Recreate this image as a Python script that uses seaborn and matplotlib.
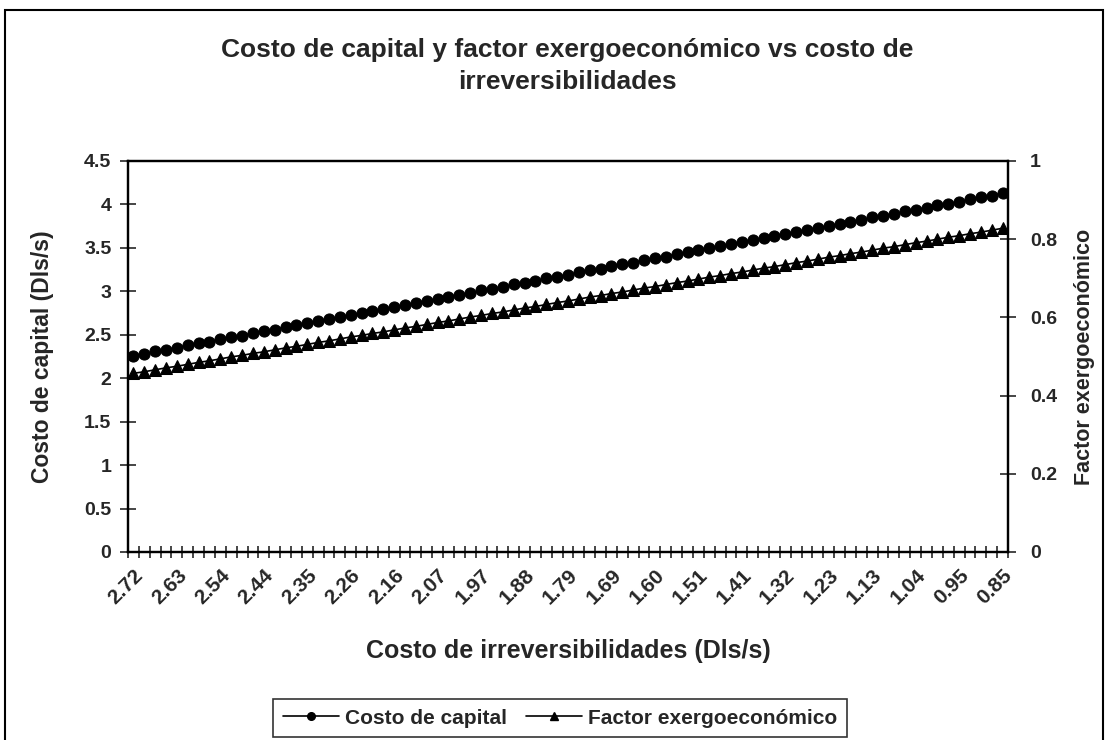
import matplotlib
matplotlib.use("Agg")
import matplotlib.pyplot as plt
from matplotlib.patches import Rectangle
from matplotlib.lines import Line2D
import numpy as np
import pandas as pd
import seaborn as sns

# ---- data ----
costo_capital = [
    2.26, 2.28, 2.31, 2.33, 2.35, 2.38, 2.40, 2.42, 2.45, 2.47,
    2.49, 2.52, 2.54, 2.56, 2.59, 2.61, 2.63, 2.66, 2.68, 2.70,
    2.73, 2.75, 2.77, 2.80, 2.82, 2.84, 2.87, 2.89, 2.91, 2.94,
    2.96, 2.98, 3.01, 3.03, 3.05, 3.08, 3.10, 3.12, 3.15, 3.17,
    3.19, 3.22, 3.24, 3.26, 3.29, 3.31, 3.33, 3.36, 3.38, 3.40,
    3.43, 3.45, 3.47, 3.50, 3.52, 3.54, 3.57, 3.59, 3.61, 3.64,
    3.66, 3.68, 3.71, 3.73, 3.75, 3.78, 3.80, 3.82, 3.85, 3.87,
    3.89, 3.92, 3.94, 3.96, 3.99, 4.01, 4.03, 4.06, 4.08, 4.10,
    4.13,
]
factor_exergo = [
    0.457, 0.461, 0.466, 0.471, 0.475, 0.480, 0.485, 0.489, 0.494, 0.499,
    0.503, 0.508, 0.512, 0.517, 0.522, 0.526, 0.531, 0.536, 0.540, 0.545,
    0.550, 0.554, 0.559, 0.563, 0.568, 0.573, 0.577, 0.582, 0.587, 0.591,
    0.596, 0.601, 0.605, 0.610, 0.614, 0.619, 0.624, 0.628, 0.633, 0.638,
    0.642, 0.647, 0.652, 0.656, 0.661, 0.665, 0.670, 0.675, 0.679, 0.684,
    0.689, 0.693, 0.698, 0.703, 0.707, 0.712, 0.716, 0.721, 0.726, 0.730,
    0.735, 0.740, 0.744, 0.749, 0.754, 0.758, 0.763, 0.767, 0.772, 0.777,
    0.781, 0.786, 0.791, 0.795, 0.800, 0.805, 0.809, 0.814, 0.818, 0.823,
    0.828,
]
x_tick_labels = ["2.72", "2.63", "2.54", "2.44", "2.35", "2.26", "2.16", "2.07",
                 "1.97", "1.88", "1.79", "1.69", "1.60", "1.51", "1.41", "1.32",
                 "1.23", "1.13", "1.04", "0.95", "0.85"]
left_ticks = [0, 0.5, 1, 1.5, 2, 2.5, 3, 3.5, 4, 4.5]
right_ticks = [0, 0.2, 0.4, 0.6, 0.8, 1]

title = "Costo de capital y factor exergoeconómico vs costo de\nirreversibilidades"
xlabel = "Costo de irreversibilidades (Dls/s)"
ylabel_left = "Costo de capital (Dls/s)"
ylabel_right = "Factor exergoeconómico"
series_names = ["Costo de capital", "Factor exergoeconómico"]

# ---- figure ----
sns.set_style("white")
plt.rcParams["font.family"] = ["Liberation Sans", "DejaVu Sans"]
plt.rcParams["font.weight"] = "bold"

W, H = 1107, 740
fig = plt.figure(figsize=(W / 100, H / 100), dpi=100)
fig.patch.set_facecolor("white")

# outer chart border
fig.patches.append(Rectangle((5 / W, -0.02), (1103 - 5) / W, 1.02 - 10 / H,
                             transform=fig.transFigure, fill=False,
                             edgecolor="black", linewidth=1.5))

L, R, T, B = 128, 1008, 161, 552
ax = fig.add_axes([L / W, (H - B) / H, (R - L) / W, (B - T) / H])
ax2 = ax.twinx()

n = len(costo_capital)
df = pd.DataFrame({"idx": np.arange(n), "cc": costo_capital, "fe": factor_exergo})

sns.lineplot(data=df, x="idx", y="cc", ax=ax, color="black", linewidth=1.2,
             marker="o", markersize=8, markeredgecolor="black",
             markerfacecolor="black", legend=False)
sns.lineplot(data=df, x="idx", y="fe", ax=ax2, color="black", linewidth=1.2,
             marker="^", markersize=8, markeredgecolor="black",
             markerfacecolor="black", legend=False)

ax.set_xlim(-0.5, n - 0.5)
ax.set_ylim(0, 4.5)
ax2.set_ylim(0, 1)

ax.set_yticks(left_ticks)
ax.set_yticklabels([f"{v:g}" for v in left_ticks], fontsize=14, fontweight="bold")
ax2.set_yticks(right_ticks)
ax2.set_yticklabels([f"{v:g}" for v in right_ticks], fontsize=14, fontweight="bold")

label_pos = np.arange(0, n, 4)
ax.set_xticks(label_pos)
ax.set_xticklabels(x_tick_labels, rotation=45, ha="right", rotation_mode="anchor",
                   fontsize=15, fontweight="bold")
ax.tick_params(axis="x", which="major", length=0, pad=10)
ax.set_xticks(np.arange(-0.5, n, 1), minor=True)
ax.tick_params(axis="x", which="minor", direction="inout", length=8, width=1.2,
               bottom=True)
ax.tick_params(axis="y", direction="inout", length=12, width=1.2, left=True, pad=6)
ax2.tick_params(axis="y", direction="inout", length=12, width=1.2, right=True, pad=10)

for a in (ax, ax2):
    for s in a.spines.values():
        s.set_color("black")
        s.set_linewidth(1.6)
    a.grid(False)

ax.set_xlabel(xlabel, fontsize=18, fontweight="bold", labelpad=22)
ax.set_ylabel(ylabel_left, fontsize=16.5, fontweight="bold", labelpad=22)
ax2.set_ylabel(ylabel_right, fontsize=15.5, fontweight="bold", labelpad=12)

fig.text(567 / W, 1 - 66 / H, title, ha="center", va="center",
         fontsize=19, fontweight="bold", linespacing=1.4)

handles = [
    Line2D([], [], color="black", linewidth=1.2, marker="o", markersize=5.5),
    Line2D([], [], color="black", linewidth=1.2, marker="^", markersize=5.5),
]
leg = fig.legend(handles, series_names, loc="center", ncol=2,
                 bbox_to_anchor=(560 / W, 1 - 718 / H), frameon=True,
                 fancybox=False, shadow=False, fontsize=15,
                 handlelength=2.7, handletextpad=0.3, columnspacing=0.9,
                 borderpad=0.45)
leg.get_frame().set_edgecolor("black")
leg.get_frame().set_linewidth(1.2)
for t in leg.get_texts():
    t.set_fontweight("bold")

fig.savefig("out.png", dpi=100, facecolor="white")
